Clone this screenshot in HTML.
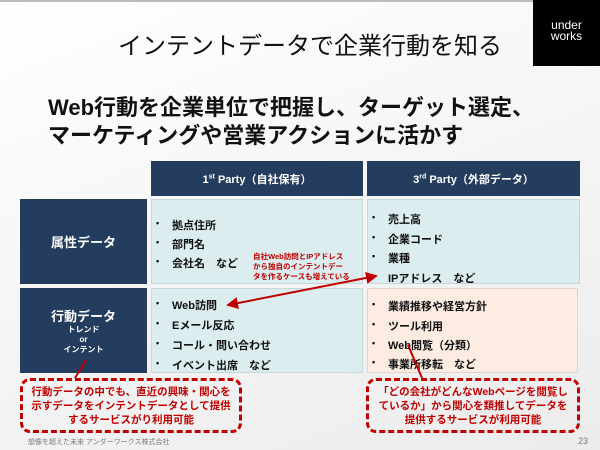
<!DOCTYPE html>
<html><head><meta charset="utf-8"><style>
*{margin:0;padding:0;box-sizing:border-box}
body{width:600px;height:450px;overflow:hidden;background:linear-gradient(160deg,#fff 0%,#f7f7f7 40%,#ececec 100%);font-family:"Liberation Sans","Noto Sans CJK JP",sans-serif;position:relative}
.a{position:absolute}
.nv{background:#243d5f;color:#fff;font-weight:bold;display:flex;align-items:center;justify-content:center;flex-direction:column;text-align:center}
.cy{background:#dcedef;border:1px solid #c8d8da}
.pc{background:#fcece2;border:1px solid #e4d4cc}
.li{position:absolute;font-weight:bold;font-size:11px;color:#111;white-space:nowrap}
.li:before{content:"•";position:absolute;left:-16px;font-size:9px;top:1px}
.dash{border:3px dashed #c00000;border-radius:10px;color:#c00000;font-weight:bold;font-size:10.5px;line-height:14px;text-align:center;display:flex;align-items:center;justify-content:center}
</style></head><body>
<div class="a" style="left:0;top:0;width:600px;height:2px;background:#bbb"></div>
<div class="a" style="left:110px;top:26px;width:400px;text-align:center;font-size:24px;color:#111">インテントデータで企業行動を知る</div>
<div class="a" style="left:533px;top:0;width:67px;height:66px;background:#000;color:#fff;font-size:12px;line-height:11px;text-align:center;padding-top:20px">under<br>works</div>
<div class="a" style="left:48px;top:94px;font-size:22px;font-weight:bold;line-height:28px;color:#111;white-space:nowrap">Web行動を企業単位で把握し、ターゲット選定、<br>マーケティングや営業アクションに活かす</div>

<div class="a nv" style="left:151px;top:161px;width:212px;height:35px;font-size:11px"><span>1<sup style="font-size:7px">st</sup> Party（自社保有）</span></div>
<div class="a nv" style="left:367px;top:161px;width:213px;height:35px;font-size:11px"><span>3<sup style="font-size:7px">rd</sup> Party（外部データ）</span></div>
<div class="a nv" style="left:20px;top:199px;width:127px;height:85px;font-size:13px">属性データ</div>
<div class="a nv" style="left:20px;top:288px;width:127px;height:85px;font-size:13px"><div>行動データ</div><div style="font-size:8px;line-height:10px">トレンド<br>or<br>インテント</div></div>
<div class="a cy" style="left:151px;top:199px;width:212px;height:85px"></div>
<div class="a cy" style="left:367px;top:199px;width:213px;height:85px"></div>
<div class="a cy" style="left:151px;top:288px;width:212px;height:85px"></div>
<div class="a pc" style="left:367px;top:288px;width:211px;height:85px"></div>

<div class="li" style="left:172px;top:217px">拠点住所</div>
<div class="li" style="left:172px;top:236px">部門名</div>
<div class="li" style="left:172px;top:255px">会社名　など</div>
<div class="li" style="left:388px;top:211px">売上高</div>
<div class="li" style="left:388px;top:231px">企業コード</div>
<div class="li" style="left:388px;top:250px">業種</div>
<div class="li" style="left:388px;top:270px">IPアドレス　など</div>
<div class="li" style="left:172px;top:297px">Web訪問</div>
<div class="li" style="left:172px;top:317px">Eメール反応</div>
<div class="li" style="left:172px;top:337px">コール・問い合わせ</div>
<div class="li" style="left:172px;top:357px">イベント出席　など</div>
<div class="li" style="left:388px;top:298px">業績推移や経営方針</div>
<div class="li" style="left:388px;top:318px">ツール利用</div>
<div class="li" style="left:388px;top:337px">Web閲覧（分類）</div>
<div class="li" style="left:388px;top:356px">事業所移転　など</div>

<div class="a" style="left:253px;top:252px;font-size:7.5px;line-height:10px;color:#c00000;font-weight:bold;white-space:nowrap">自社Web訪問とIPアドレス<br>から独自のインテントデー<br>タを作るケースも増えている</div>

<div class="a dash" style="left:20px;top:378px;width:222px;height:55px">行動データの中でも、直近の興味・関心を<br>示すデータをインテントデータとして提供<br>するサービスがり利用可能</div>
<div class="a dash" style="left:366px;top:378px;width:214px;height:55px">「どの会社がどんなWebページを閲覧し<br>ているか」から関心を類推してデータを<br>提供するサービスが利用可能</div>

<svg class="a" style="left:0;top:0" width="600" height="450">
<defs><marker id="m" markerWidth="6" markerHeight="6" refX="5" refY="3" orient="auto-start-reverse" markerUnits="strokeWidth"><path d="M0,0L6,3L0,6z" fill="#c00000"/></marker></defs>
<line x1="376" y1="276" x2="228" y2="305" stroke="#c00000" stroke-width="2" marker-start="url(#m)" marker-end="url(#m)"/>
<line x1="86" y1="360" x2="75" y2="378" stroke="#c00000" stroke-width="2"/>
<line x1="408" y1="345" x2="422" y2="378" stroke="#c00000" stroke-width="2"/>
</svg>
<div class="a" style="left:28px;top:437px;font-size:7px;color:#777">想像を超えた未来 アンダーワークス株式会社</div>
<div class="a" style="left:578px;top:436px;font-size:9px;color:#777">23</div>
</body></html>
